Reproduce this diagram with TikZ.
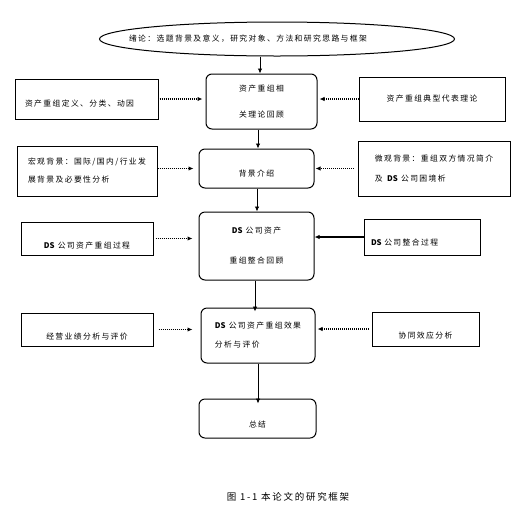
\documentclass[tikz,border=0pt]{standalone}
\usepackage{fontspec}
\setmainfont{Noto Sans CJK SC}[LetterSpace=18]
\usetikzlibrary{shapes.geometric,arrows.meta}
\newcommand{\dsname}{{\addfontfeature{LetterSpace=0}\textbf{DS}}}

\begin{document}
\begin{tikzpicture}[x=1pt,y=-1pt,
  every node/.style={font=\fontsize{7.8}{10}\selectfont, inner sep=0pt},
  mainbox/.style={draw, rounded corners=6pt, line width=1pt},
  sidebox/.style={draw, line width=1pt},
  textdrop/.style={text height=#1, text depth=1pt},
  flow/.style={-{Latex[length=5pt,width=4.5pt]}, line width=0.8pt},
  link/.style={-{Latex[length=5pt,width=4.5pt]}, line width=1.2pt, dash pattern=on 1pt off 1pt},
  solidlink/.style={-{Latex[length=5pt,width=4.5pt]}, line width=1.2pt}]
\useasboundingbox (0,0) rectangle (529,512);

\node[ellipse, draw, line width=1pt, minimum width=355pt, minimum height=34pt] (intro) at (277,39) {};
\node (introtext) at (248,39) {绪论：选题背景及意义，研究对象、方法和研究思路与框架};

\node[mainbox, minimum width=111pt, minimum height=55pt, align=center, font=\fontsize{7.8}{26}\selectfont] (theory) at (261.5,101.5) {资产重组相\\关理论回顾};
\node[mainbox, minimum width=115pt, minimum height=39pt, textdrop=16pt] (background) at (256.5,168.5) {背景介绍};
\node[mainbox, minimum width=115pt, minimum height=68pt, align=center, font=\fontsize{7.8}{30}\selectfont] (review) at (256.5,246) {\dsname{} 公司资产\\重组整合回顾};
\node[mainbox, minimum width=114pt, minimum height=55pt, align=left, font=\fontsize{7.8}{19}\selectfont] (effect) at (258,335.5) {\dsname{} 公司资产重组效果\\分析与评价};
\node[mainbox, minimum width=117pt, minimum height=39pt, textdrop=18pt] (summary) at (257.5,418.5) {总结};

\node[sidebox, text width=123pt, inner xsep=10pt, align=left, minimum height=40pt, textdrop=15pt] (definition) at (86.5,99) {资产重组定义、分类、动因};
\node[sidebox, minimum width=146pt, minimum height=44pt] (typical) at (432,99) {资产重组典型代表理论};
\node[sidebox, minimum width=140pt, minimum height=50pt, align=left, font=\fontsize{7.8}{18}\selectfont] (macro) at (87,171) {宏观背景：国际/国内/行业发\\展背景及必要性分析};
\node[sidebox, minimum width=152pt, minimum height=55pt, align=left, font=\fontsize{7.8}{20}\selectfont] (micro) at (434,168.5) {微观背景：重组双方情况简介\\及 \dsname{} 公司困境析};
\node[sidebox, minimum width=132pt, minimum height=33pt, textdrop=20pt] (process) at (87,238.5) {\dsname{} 公司资产重组过程};
\node[sidebox, text width=102pt, inner xsep=7pt, align=left, minimum height=36pt, textdrop=17pt] (integration) at (422,237) {\dsname{} 公司整合过程};
\node[sidebox, minimum width=132pt, minimum height=33pt, textdrop=20pt] (performance) at (87,329.5) {经营业绩分析与评价};
\node[sidebox, minimum width=107pt, minimum height=34pt, textdrop=19pt] (synergy) at (425.5,329) {协同效应分析};

\node[font=\fontsize{9.5}{12}\selectfont] (caption) at (288,497) {图 1-1 本论文的研究框架};

\draw[flow] (intro.south -| 260,0) -- (theory.north -| 260,0);
\draw[flow] (theory.south -| 258,0) -- (background.north -| 258,0);
\draw[flow] (background.south -| 257,0) -- (review.north -| 257,0);
\draw[flow] (review.south -| 255,0) -- ([yshift=-4pt]effect.north -| 255,0);
\draw[flow] (effect.south -| 258,0) -- ([yshift=-5pt]summary.north -| 258,0);

\draw[link, shorten <=1pt, shorten >=3pt] (definition.east) -- (theory.west |- definition.east);
\draw[link, shorten >=2pt] (typical.west) -- (theory.east |- typical.west);
\draw[link, shorten >=5pt] (macro.east |- background.west) -- (background.west);
\draw[link, shorten <=4pt, shorten >=1pt] (micro.west |- background.east) -- (background.east);
\draw[link, shorten <=2pt, shorten >=6pt] (process.east) -- (review.west |- process.east);
\draw[solidlink] (integration.west) -- (review.east |- integration.west);
\draw[link, shorten <=5pt, shorten >=8pt] (performance.east) -- (effect.west |- performance.east);
\draw[link, shorten <=3pt, shorten >=2pt] (synergy.west) -- (effect.east |- synergy.west);
\end{tikzpicture}
\end{document}
